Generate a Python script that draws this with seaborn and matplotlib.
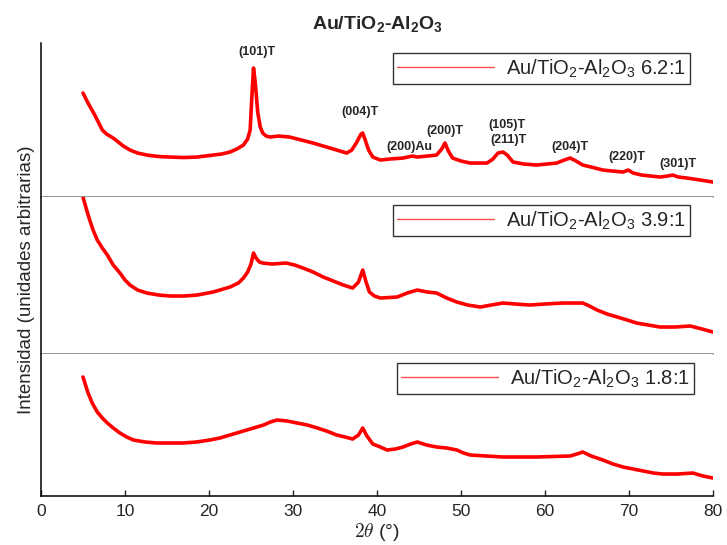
import matplotlib
matplotlib.use("Agg")
import matplotlib.pyplot as plt
import pandas as pd
import seaborn as sns

# 2theta positions and intensities (arbitrary units)
tt_62 = [5.0, 5.3, 5.6, 6.0, 6.4, 6.7, 7.0, 7.3, 7.8, 8.2, 8.6, 9.2, 9.8, 10.6, 11.5,
         12.6, 14.0, 15.4, 17.0, 18.6, 20.5, 21.5, 22.5, 23.3, 24.1, 24.6, 24.9, 25.1,
         25.3, 25.5, 25.8, 26.1, 26.4, 26.8, 27.3, 28.3, 29.6, 31.0, 32.4, 34.4, 36.4,
         37.0, 37.6, 38.1, 38.3, 38.6, 39.0, 39.5, 40.4, 41.5, 43.1, 44.2, 44.8, 46.0,
         47.1, 47.7, 48.1, 48.5, 49.0, 50.0, 51.1, 53.1, 53.8, 54.4, 55.0, 55.5, 56.2,
         57.5, 59.0, 61.4, 62.3, 63.0, 63.7, 64.5, 65.5, 66.9, 68.0, 69.3, 69.9, 70.5,
         71.5, 73.7, 74.6, 75.2, 75.9, 76.9, 78.5, 80.0]
int_62 = [104, 99, 94, 88, 82, 77, 72, 67, 63, 61, 59, 55, 51, 47, 44,
          42, 40.5, 40, 39.5, 40, 42, 43, 45, 48, 52, 58, 67, 100,
          129, 115, 85, 70, 64, 61, 60, 61, 60, 57, 54, 49, 44,
          47, 55, 63, 64, 57, 47, 40, 37, 38, 39, 41, 40, 41,
          42, 48, 54, 46, 39, 36, 34, 34, 38, 44, 45, 42, 35,
          33, 32, 34, 37, 39, 36, 32, 30, 27, 26, 25, 27, 24,
          22, 20, 21, 22, 20, 19, 17, 15]

tt_39 = [5.0, 5.4, 5.8, 6.2, 6.7, 7.3, 7.9, 8.6, 9.4, 10.0, 10.6, 11.5, 12.6, 14.0,
         15.4, 17.0, 18.6, 20.5, 22.5, 23.5, 24.1, 24.6, 25.0, 25.3, 25.6, 26.0, 26.4,
         27.5, 29.2, 30.2, 31.2, 32.4, 33.6, 34.8, 36.0, 37.1, 37.8, 38.3, 38.7, 39.1,
         39.7, 40.4, 42.4, 43.6, 44.8, 46.0, 47.1, 48.3, 49.5, 50.8, 52.3, 53.6, 55.0,
         56.5, 58.2, 60.0, 62.1, 63.5, 64.5, 65.3, 66.2, 67.4, 68.6, 69.8, 70.9, 72.3,
         73.7, 75.5, 77.3, 78.7, 80.0]
int_39 = [157, 145, 134, 124, 114, 106, 99, 89, 81, 74, 69, 64, 61, 59,
          58, 58, 59, 62, 67, 71, 76, 82, 90, 101, 96, 92, 91,
          90, 91, 89, 86, 82, 77, 73, 69, 66, 72, 84, 72, 62,
          58, 56, 57, 61, 64, 62, 61, 56, 52, 49, 47, 49, 51,
          50, 49, 50, 51, 51, 51, 48, 44, 40, 37, 34, 31, 29,
          27, 27, 28, 25, 22]

tt_18 = [5.0, 5.3, 5.6, 6.1, 6.7, 7.3, 7.9, 8.6, 9.4, 10.2, 11.0, 12.4, 13.8, 15.4,
         16.9, 18.5, 20.1, 21.3, 22.5, 23.7, 24.9, 26.5, 27.3, 28.1, 29.3, 30.5, 31.7,
         32.9, 34.0, 35.2, 36.2, 37.1, 37.8, 38.3, 38.8, 39.5, 40.4, 41.2, 42.2, 43.1,
         44.0, 44.8, 45.9, 47.1, 48.3, 49.5, 50.3, 51.1, 53.0, 55.0, 57.0, 59.0, 61.0,
         63.0, 63.8, 64.5, 65.5, 66.9, 68.1, 69.3, 70.5, 71.7, 72.9, 74.0, 75.8, 77.6,
         78.8, 80.0]
int_18 = [119, 111, 103, 93, 84, 78, 73, 68, 63, 59, 56, 54, 53, 53,
          53, 54, 56, 58, 61, 64, 67, 71, 74, 76, 75, 73, 71,
          68, 65, 61, 59, 57, 61, 68, 60, 52, 49, 46, 47, 49,
          52, 54, 51, 49, 48, 46, 43, 41, 40, 39, 39, 39, 39.5,
          40, 42, 44, 40, 36, 32, 29, 27, 25, 23, 22, 22, 23,
          20, 18]

labels = ["Au/TiO$_2$-Al$_2$O$_3$ 6.2:1",
          "Au/TiO$_2$-Al$_2$O$_3$ 3.9:1",
          "Au/TiO$_2$-Al$_2$O$_3$ 1.8:1"]

peak_names = ["(101)T", "(004)T", "(200)Au", "(200)T", "(105)T", "(211)T",
              "(204)T", "(220)T", "(301)T"]
peak_x = [25.7, 38.0, 43.8, 48.1, 55.5, 55.6, 63.0, 69.8, 75.8]
peak_y = [145, 85, 50, 66, 72, 57, 50, 40, 33]

sns.set_style("white")
plt.rcParams["font.family"] = ["Liberation Sans", "DejaVu Sans"]
plt.rcParams["mathtext.fontset"] = "custom"
plt.rcParams["mathtext.rm"] = "Liberation Sans"
plt.rcParams["mathtext.it"] = "Liberation Sans:italic"
plt.rcParams["mathtext.bf"] = "Liberation Sans:bold"

fig, axes = plt.subplots(3, 1, figsize=(7.27, 5.45), dpi=100, sharex=True,
                         gridspec_kw={"height_ratios": [154, 157, 142], "hspace": 0})
fig.subplots_adjust(left=0.0564, right=0.9807, top=0.921, bottom=0.0899)

series = [(tt_62, int_62), (tt_39, int_39), (tt_18, int_18)]
ylims = [154, 157, 142]
leg_anchor = [(0.966, 0.935), (0.966, 0.949), (0.972, 0.937)]

for i, ax in enumerate(axes):
    df = pd.DataFrame({"two_theta": series[i][0], "intensity": series[i][1]})
    sns.lineplot(data=df, x="two_theta", y="intensity", ax=ax, color="red",
                 lw=2.6, label=labels[i])
    ax.set_xlim(0, 80)
    ax.set_ylim(0, ylims[i])
    ax.set_yticks([])
    ax.set_ylabel("")
    ax.set_xlabel("")
    for s in ["top", "right"]:
        ax.spines[s].set_visible(False)
    ax.spines["left"].set_color("black")
    ax.spines["left"].set_linewidth(1.1)
    if i < 2:
        ax.spines["bottom"].set_color("#7f7f7f")
        ax.spines["bottom"].set_linewidth(1.2)
        ax.tick_params(axis="x", bottom=False, labelbottom=False)
    leg = ax.legend(loc="upper right", bbox_to_anchor=leg_anchor[i], fontsize=14.5,
                    handlelength=4.8, frameon=True, fancybox=False,
                    borderpad=0.22, handletextpad=0.6, borderaxespad=0)
    leg.get_frame().set_edgecolor("black")
    leg.get_frame().set_linewidth(1.0)
    for h in leg.get_lines():
        h.set_linewidth(1.0)
        h.set_color("#ff4d4d")

ax = axes[2]
ax.spines["bottom"].set_color("black")
ax.spines["bottom"].set_linewidth(1.1)
ax.set_xticks(range(0, 81, 10))
ax.tick_params(axis="x", direction="in", length=4, width=1, bottom=True,
               labelsize=12.5, pad=6)
ax.set_xlabel(r"$2\theta$ (°)", fontsize=14, math_fontfamily="cm", labelpad=1)

for name, x, y in zip(peak_names, peak_x, peak_y):
    axes[0].text(x, y, name, ha="center", va="center", fontsize=9, fontweight="bold")

fig.suptitle(r"Au/TiO$_\mathbf{2}$-Al$_\mathbf{2}$O$_\mathbf{3}$", x=0.5186, y=0.975,
             fontsize=14, fontweight="bold")
fig.text(0.036, 0.486, "Intensidad (unidades arbitrarias)", rotation=90,
         ha="center", va="center", fontsize=13.5)

fig.savefig("out.png", dpi=100)
